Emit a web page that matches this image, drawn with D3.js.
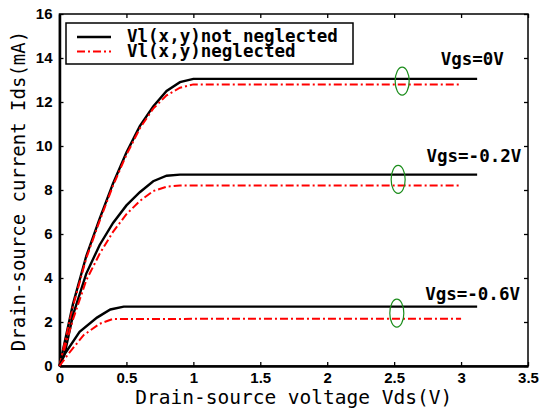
<!DOCTYPE html>
<html>
<head>
<meta charset="utf-8">
<script src="https://cdn.jsdelivr.net/npm/d3@7"></script>
<style>
  body { margin: 0; background: #fff; }
  svg { display: block; }
  .tick text { font-family: "Liberation Sans", Arial, sans-serif; font-weight: bold; font-size: 15px; }
  .mono { font-family: "DejaVu Sans Mono", monospace; }
</style>
</head>
<body>
<div class="chart"></div>
<script>
// Vds (V) / Ids (mA) for each Vgs
const vds0Black  = [0, 0.1, 0.2, 0.3, 0.4, 0.5, 0.6, 0.7, 0.8, 0.9, 1.0, 3.12]
const ids0Black  = [0, 2.8, 5.0, 6.7, 8.3, 9.7, 10.9, 11.8, 12.5, 12.9, 13.05, 13.05]
const vds0Red    = [0, 0.1, 0.2, 0.3, 0.4, 0.5, 0.6, 0.7, 0.8, 0.9, 1.0, 3.0]
const ids0Red    = [0, 2.7, 4.9, 6.6, 8.2, 9.6, 10.8, 11.7, 12.3, 12.65, 12.8, 12.8]

const vds02Black = [0, 0.04, 0.1, 0.2, 0.3, 0.4, 0.5, 0.6, 0.7, 0.8, 0.9, 3.12]
const ids02Black = [0, 0.6, 2.3, 4.2, 5.5, 6.5, 7.3, 7.9, 8.4, 8.65, 8.7, 8.7]
const vds02Red   = [0, 0.1, 0.2, 0.3, 0.4, 0.5, 0.6, 0.7, 0.8, 0.9, 3.0]
const ids02Red   = [0, 2.1, 3.9, 5.1, 6.1, 6.9, 7.5, 7.95, 8.15, 8.2, 8.2]

const vds06Black = [0, 0.04, 0.15, 0.28, 0.38, 0.48, 3.12]
const ids06Black = [0, 0.55, 1.55, 2.2, 2.57, 2.7, 2.7]
const vds06Red   = [0, 0.07, 0.18, 0.3, 0.4, 3.0]
const ids06Red   = [0, 0.58, 1.4, 1.92, 2.14, 2.15]

const xTicks = [0, 0.5, 1, 1.5, 2, 2.5, 3, 3.5]
const yTicks = [0, 2, 4, 6, 8, 10, 12, 14, 16]

// labels anchored at their right end (Vds, Ids of baseline)
const vgsLabels = ["Vgs=0V", "Vgs=-0.2V", "Vgs=-0.6V"]
const vgsLabelVds = [3.32, 3.45, 3.44]
const vgsLabelIds = [13.68, 9.27, 3.0]
const ellipseVds = [2.56, 2.53, 2.52]
const ellipseIds = [12.95, 8.48, 2.4]

const legendNames = ["Vl(x,y)not neglected", "Vl(x,y)neglected"]

const width = 541, height = 410
const margin = {top: 14, right: 13, bottom: 44, left: 59.5}

const svg = d3.select(".chart").append("svg")
  .attr("width", width)
  .attr("height", height)

const x = d3.scaleLinear().domain([0, 3.5]).range([margin.left, width - margin.right])
const y = d3.scaleLinear().domain([0, 16]).range([height - margin.bottom, margin.top])

// frame
svg.append("rect")
  .attr("x", x(0)).attr("y", y(16))
  .attr("width", x(3.5) - x(0)).attr("height", y(0) - y(16))
  .style("fill", "none").style("stroke", "#000").style("stroke-width", 1.5)

let xAxis = svg.append("g")
  .attr("transform", `translate(0,${y(0)})`)
  .call(d3.axisBottom(x).tickValues(xTicks).tickFormat(d3.format("")).tickSizeInner(-4).tickSizeOuter(0).tickPadding(6))
xAxis.select(".domain").style("stroke-width", 2.5)

let yAxis = svg.append("g")
  .attr("transform", `translate(${x(0)},0)`)
  .call(d3.axisLeft(y).tickValues(yTicks).tickSizeInner(-4).tickSizeOuter(0).tickPadding(7))
yAxis.select(".domain").style("stroke-width", 2.5)

svg.append("g")
  .attr("transform", `translate(0,${y(16)})`)
  .call(d3.axisTop(x).tickValues(xTicks).tickFormat("").tickSizeInner(-4).tickSizeOuter(0))
  .select(".domain").remove()

svg.append("g")
  .attr("transform", `translate(${x(3.5)},0)`)
  .call(d3.axisRight(y).tickValues(yTicks).tickFormat("").tickSizeInner(-4).tickSizeOuter(0))
  .select(".domain").remove()

svg.selectAll(".tick line").style("stroke-width", 1.3)

const line = d3.line().x(d => x(d[0])).y(d => y(d[1]))

const curves = [
  [vds0Black, ids0Black, "black"], [vds0Red, ids0Red, "red"],
  [vds02Black, ids02Black, "black"], [vds02Red, ids02Red, "red"],
  [vds06Black, ids06Black, "black"], [vds06Red, ids06Red, "red"]
]

curves.forEach(c => {
  let pts = c[0].map((v, i) => [v, c[1][i]])
  svg.append("path")
    .datum(pts)
    .attr("d", line)
    .style("fill", "none")
    .style("stroke", c[2] == "black" ? "#000" : "#ff0000")
    .style("stroke-width", c[2] == "black" ? 2.4 : 2)
    .style("stroke-dasharray", c[2] == "black" ? null : "8,3,2,3")
})

// green ellipses
ellipseVds.forEach((v, i) => {
  svg.append("ellipse")
    .attr("cx", x(v)).attr("cy", y(ellipseIds[i]))
    .attr("rx", 7).attr("ry", 14)
    .style("fill", "none").style("stroke", "#1a8c1a").style("stroke-width", 1.2)
})

// Vgs labels
vgsLabels.forEach((t, i) => {
  svg.append("text")
    .attr("class", "mono")
    .attr("x", x(vgsLabelVds[i]))
    .attr("y", y(vgsLabelIds[i]))
    .attr("text-anchor", "end")
    .style("font-size", "17.5px")
    .style("font-weight", "bold")
    .text(t)
})

// legend
let legend = svg.append("g")
legend.append("rect")
  .attr("x", 66).attr("y", 23).attr("width", 287).attr("height", 41)
  .style("fill", "#fff").style("stroke", "#000").style("stroke-width", 1.5)

legendNames.forEach((n, i) => {
  let ly = 37 + i * 14.5
  legend.append("line")
    .attr("x1", 77).attr("x2", 111).attr("y1", ly).attr("y2", ly)
    .style("stroke", i == 0 ? "#000" : "#ff0000")
    .style("stroke-width", i == 0 ? 2.4 : 2)
    .style("stroke-dasharray", i == 0 ? null : "8,3,2,3")
  legend.append("text")
    .attr("class", "mono")
    .attr("x", 127).attr("y", ly + 5)
    .style("font-size", "17.5px")
    .style("font-weight", "bold")
    .text(n)
})

// axis titles
svg.append("text")
  .attr("class", "mono")
  .attr("x", (x(0) + x(3.5)) / 2 + 0)
  .attr("y", 404)
  .attr("text-anchor", "middle")
  .style("font-size", "19.5px")
  .text("Drain-source voltage Vds(V)")

svg.append("text")
  .attr("class", "mono")
  .attr("transform", "translate(25,191) rotate(-90)")
  .attr("text-anchor", "middle")
  .style("font-size", "19px")
  .text("Drain-source current Ids(mA)")
</script>
</body>
</html>
